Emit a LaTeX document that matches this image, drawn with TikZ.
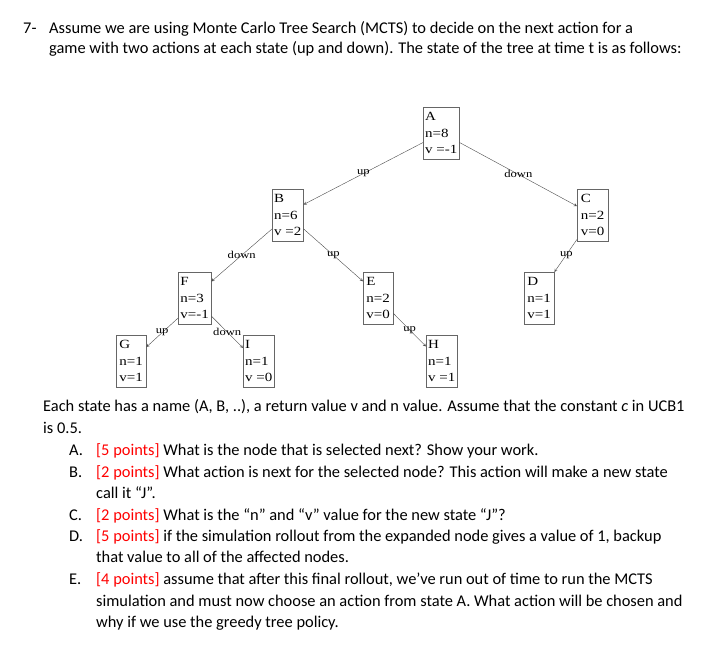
\documentclass[tikz,border=0pt]{standalone}
\usepackage{fontspec}
\setmainfont{Carlito}
\newfontfamily\treefont[FakeStretch=1.2]{Liberation Serif}
\begin{document}
\begin{tikzpicture}[x=1pt,y=-1pt,>=stealth]
                \tikzstyle{state}=[draw=black!60,thin,anchor=north west,align=left,inner xsep=2pt,inner ysep=0pt,minimum height=52pt,font=\treefont\fontsize{12.5}{16.5}\selectfont]
                \tikzstyle{move}=[->,draw=black!70,thin]
                \tikzstyle{act}=[inner sep=0pt,font=\treefont\fontsize{10.5}{10}\selectfont]
                \tikzstyle{para}=[anchor=base west,inner sep=0pt,font=\fontsize{16.4}{18}\selectfont]
                \useasboundingbox (0,0) rectangle (720,662);

                % the tree at time t
                \foreach \nm/\x/\y/\w/\nval/\vval in {A/423/107/35/8/v =-1, B/272/189/30/6/v =2, C/577/189/31/2/v=0,
                                                    F/178/272/33/3/v=-1, E/363/272/30/2/v=0, D/524/272/30/1/v=1,
                                                    G/116/335/30/1/v=1, I/243/335/31/1/v =0, H/426/335/31/1/v =1}
                        \node[state,minimum width=\w pt] (\nm) at (\x,\y) {\nm\\n=\nval\\\vval};

                    \draw[move] (A.207) -- node[act] {up} (B.34);
                    \draw[move] (A.333) -- node[act] {down} (C.150);
                    \draw[move] (B.221) -- node[act] {down} (F.45);
                    \draw[move] (B.319) -- node[act] {up} (E.132);
                    \draw[move] (C.237) -- node[act,pos=0.47] {up} (D.north east);
                    \draw[move] (F.230) -- node[act] {up} (G.43);
                    \draw[move] (F.313) -- node[act] {down} (I.140);
                    \draw[move] (E.315) -- node[act] {up} (H.137);

                % question text
                \node[para] (q) at (23,33) {7-};
                \node[para] (q1) at (49,33) {Assume we are using Monte Carlo Tree Search (MCTS) to decide on the next action for a};
                \node[para] (q2) at (49,53) {game with two actions at each state (up and down). The state of the tree at time t is as follows:};
                \node[para] (p1) at (43,411) {Each state has a name (A, B, ..), a return value v and n value. Assume that the constant \textit{c} in UCB1};
                \node[para] (p2) at (43,433) {is 0.5.};
                \foreach \lbl/\y in {A/455, B/477, C/520, D/541, E/584}
                        \node[para] (l-\lbl) at (69,\y) {\lbl.};
                \node[para] (a1) at (96,455) {\textcolor{red}{[5 points]} What is the node that is selected next? Show your work.};
                \node[para] (b1) at (96,477) {\textcolor{red}{[2 points]} What action is next for the selected node? This action will make a new state};
                \node[para] (b2) at (96,498) {call it “J”.};
                \node[para] (c1) at (96,520) {\textcolor{red}{[2 points]} What is the “n” and “v” value for the new state “J”?};
                \node[para] (d1) at (96,541) {\textcolor{red}{[5 points]} if the simulation rollout from the expanded node gives a value of 1, backup};
                \node[para] (d2) at (96,562) {that value to all of the affected nodes.};
                \node[para] (e1) at (96,584) {\textcolor{red}{[4 points]} assume that after this final rollout, we’ve run out of time to run the MCTS};
                \node[para] (e2) at (96,606) {simulation and must now choose an action from state A. What action will be chosen and};
                \node[para] (e3) at (96,627) {why if we use the greedy tree policy.};
            \end{tikzpicture}
\end{document}
